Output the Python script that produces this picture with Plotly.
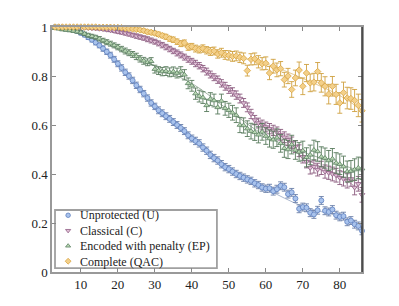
import plotly.graph_objects as go

x = list(range(3, 87))

U = [1.000, 0.999, 0.998, 0.996, 0.994, 0.990, 0.984, 0.976, 0.968, 0.958,
     0.948, 0.937, 0.925, 0.912, 0.899, 0.885, 0.868, 0.850, 0.833, 0.815,
     0.800, 0.782, 0.762, 0.745, 0.728, 0.710, 0.690, 0.676, 0.660, 0.648,
     0.636, 0.625, 0.612, 0.600, 0.588, 0.575, 0.558, 0.545, 0.535, 0.525,
     0.508, 0.495, 0.478, 0.465, 0.455, 0.440, 0.428, 0.420, 0.410, 0.400,
     0.392, 0.385, 0.378, 0.372, 0.362, 0.355, 0.345, 0.340, 0.342, 0.330,
     0.338, 0.352, 0.346, 0.318, 0.325, 0.300, 0.258, 0.265, 0.262, 0.242,
     0.235, 0.252, 0.292, 0.250, 0.245, 0.255, 0.232, 0.225, 0.228, 0.205,
     0.210, 0.195, 0.188, 0.168]
eU = [0.003, 0.003, 0.004, 0.004, 0.005, 0.006, 0.007, 0.008, 0.008, 0.009,
      0.009, 0.010, 0.010, 0.011, 0.011, 0.012, 0.012, 0.012, 0.013, 0.013,
      0.013, 0.013, 0.013, 0.013, 0.013, 0.013, 0.013, 0.013, 0.014, 0.014,
      0.014, 0.014, 0.014, 0.014, 0.014, 0.014, 0.014, 0.014, 0.015, 0.015,
      0.015, 0.015, 0.015, 0.015, 0.015, 0.015, 0.015, 0.015, 0.015, 0.015,
      0.015, 0.015, 0.015, 0.015, 0.015, 0.015, 0.015, 0.015, 0.016, 0.016,
      0.016, 0.016, 0.016, 0.016, 0.016, 0.016, 0.016, 0.016, 0.016, 0.016,
      0.016, 0.016, 0.016, 0.016, 0.016, 0.016, 0.016, 0.016, 0.016, 0.016,
      0.016, 0.016, 0.016, 0.016]

C = [1.000, 1.000, 1.000, 0.999, 0.999, 0.999, 0.998, 0.998, 0.997, 0.996,
     0.995, 0.994, 0.993, 0.991, 0.989, 0.987, 0.984, 0.981, 0.978, 0.975,
     0.971, 0.967, 0.963, 0.959, 0.955, 0.950, 0.945, 0.940, 0.933, 0.926,
     0.918, 0.910, 0.902, 0.894, 0.886, 0.877, 0.868, 0.860, 0.851, 0.842,
     0.830, 0.818, 0.806, 0.795, 0.785, 0.770, 0.758, 0.745, 0.735, 0.722,
     0.708, 0.690, 0.672, 0.645, 0.620, 0.608, 0.600, 0.592, 0.585, 0.578,
     0.570, 0.560, 0.550, 0.540, 0.528, 0.512, 0.495, 0.470, 0.450, 0.425,
     0.430, 0.418, 0.425, 0.410, 0.405, 0.400, 0.395, 0.385, 0.380, 0.372,
     0.380, 0.345, 0.360, 0.315]
eC = [0.002, 0.002, 0.002, 0.002, 0.003, 0.003, 0.003, 0.003, 0.004, 0.004,
      0.004, 0.005, 0.005, 0.005, 0.006, 0.006, 0.006, 0.007, 0.007, 0.008,
      0.008, 0.008, 0.009, 0.009, 0.009, 0.010, 0.010, 0.010, 0.010, 0.011,
      0.011, 0.011, 0.011, 0.012, 0.012, 0.012, 0.012, 0.012, 0.013, 0.013,
      0.013, 0.014, 0.014, 0.014, 0.015, 0.015, 0.016, 0.016, 0.017, 0.017,
      0.018, 0.018, 0.018, 0.019, 0.019, 0.020, 0.020, 0.020, 0.021, 0.021,
      0.022, 0.022, 0.022, 0.023, 0.023, 0.024, 0.024, 0.025, 0.025, 0.025,
      0.026, 0.026, 0.027, 0.027, 0.027, 0.028, 0.028, 0.028, 0.029, 0.029,
      0.030, 0.030, 0.030, 0.030]

E = [0.995, 0.993, 0.990, 0.988, 0.986, 0.984, 0.981, 0.978, 0.972, 0.966,
     0.962, 0.958, 0.952, 0.945, 0.938, 0.932, 0.925, 0.918, 0.910, 0.902,
     0.895, 0.888, 0.880, 0.870, 0.862, 0.856, 0.860, 0.828, 0.822, 0.818,
     0.820, 0.815, 0.818, 0.812, 0.818, 0.805, 0.770, 0.760, 0.728, 0.718,
     0.712, 0.680, 0.706, 0.700, 0.672, 0.698, 0.668, 0.660, 0.650, 0.640,
     0.600, 0.598, 0.585, 0.575, 0.570, 0.560, 0.572, 0.555, 0.545, 0.540,
     0.548, 0.525, 0.505, 0.500, 0.520, 0.498, 0.490, 0.495, 0.468, 0.478,
     0.498, 0.492, 0.470, 0.465, 0.455, 0.462, 0.445, 0.440, 0.430, 0.410,
     0.412, 0.418, 0.425, 0.422]
eE = [0.004, 0.004, 0.005, 0.005, 0.005, 0.006, 0.006, 0.007, 0.007, 0.008,
      0.008, 0.008, 0.009, 0.009, 0.010, 0.010, 0.010, 0.011, 0.011, 0.012,
      0.012, 0.012, 0.013, 0.013, 0.014, 0.014, 0.015, 0.016, 0.016, 0.017,
      0.018, 0.018, 0.019, 0.020, 0.020, 0.021, 0.022, 0.022, 0.023, 0.024,
      0.024, 0.025, 0.026, 0.026, 0.027, 0.028, 0.028, 0.029, 0.030, 0.030,
      0.031, 0.031, 0.032, 0.032, 0.033, 0.033, 0.034, 0.034, 0.035, 0.035,
      0.036, 0.036, 0.037, 0.037, 0.038, 0.038, 0.038, 0.039, 0.039, 0.040,
      0.040, 0.040, 0.041, 0.041, 0.041, 0.042, 0.042, 0.042, 0.043, 0.043,
      0.043, 0.044, 0.044, 0.044]

Q = [1.000, 1.000, 1.000, 1.000, 1.000, 1.000, 1.000, 1.000, 1.000, 1.000,
     1.000, 1.000, 0.999, 0.999, 0.999, 0.999, 0.998, 0.998, 0.997, 0.995,
     0.994, 0.992, 0.990, 0.988, 0.985, 0.980, 0.978, 0.975, 0.970, 0.965,
     0.960, 0.952, 0.948, 0.940, 0.932, 0.935, 0.918, 0.920, 0.912, 0.908,
     0.912, 0.905, 0.900, 0.902, 0.890, 0.895, 0.886, 0.884, 0.880, 0.882,
     0.876, 0.872, 0.822, 0.868, 0.870, 0.858, 0.850, 0.852, 0.812, 0.840,
     0.825, 0.830, 0.785, 0.800, 0.745, 0.792, 0.824, 0.758, 0.812, 0.772,
     0.775, 0.818, 0.772, 0.758, 0.726, 0.758, 0.725, 0.690, 0.732, 0.710,
     0.708, 0.700, 0.680, 0.658]
eQ = [0.002, 0.002, 0.002, 0.002, 0.002, 0.002, 0.002, 0.002, 0.002, 0.002,
      0.003, 0.003, 0.003, 0.003, 0.003, 0.003, 0.004, 0.004, 0.004, 0.005,
      0.005, 0.005, 0.006, 0.006, 0.007, 0.007, 0.008, 0.008, 0.009, 0.009,
      0.010, 0.010, 0.011, 0.011, 0.012, 0.012, 0.013, 0.013, 0.014, 0.014,
      0.015, 0.015, 0.016, 0.016, 0.017, 0.018, 0.018, 0.019, 0.020, 0.020,
      0.021, 0.022, 0.022, 0.023, 0.024, 0.025, 0.025, 0.026, 0.027, 0.028,
      0.028, 0.029, 0.030, 0.031, 0.032, 0.032, 0.033, 0.034, 0.035, 0.036,
      0.036, 0.037, 0.038, 0.039, 0.040, 0.040, 0.041, 0.042, 0.043, 0.044,
      0.044, 0.045, 0.046, 0.046]

fit_x = [3, 10, 20, 30, 40, 50, 60, 70, 80, 86]
fitU = [1.0, 0.976, 0.85, 0.676, 0.548, 0.42, 0.34, 0.268, 0.225, 0.18]
fitC = [1.0, 0.998, 0.981, 0.94, 0.86, 0.745, 0.59, 0.47, 0.39, 0.33]
fitE = [0.995, 0.978, 0.918, 0.84, 0.77, 0.66, 0.555, 0.49, 0.44, 0.41]
fitQ = [1.0, 1.0, 0.998, 0.975, 0.92, 0.885, 0.85, 0.79, 0.72, 0.66]

names = ["Unprotected (U)", "Classical (C)", "Encoded with penalty (EP)", "Complete (QAC)"]
xticks = [10, 20, 30, 40, 50, 60, 70, 80]
yticks = [0, 0.2, 0.4, 0.6, 0.8, 1]
ytick_text = ["0", "0.2", "0.4", "0.6", "0.8", "1"]

series = [
    (U, eU, fitU, "circle", "#a9c3ec", "#5d7fbf", "#6a7fa8"),
    (C, eC, fitC, "triangle-down", "#e0c0d6", "#8f5d84", "#8a5a7e"),
    (E, eE, fitE, "triangle-up", "#b9d8b4", "#5c8062", "#587a5c"),
    (Q, eQ, fitQ, "diamond", "#f3d08a", "#d9a443", "#cfa040"),
]

# legend layout (fractions of the plotting area)
LEG_BOX = (0.0097, 0.016, 0.532, 0.253)
LEG_SYM_X = 0.052
LEG_TXT_X = 0.085
LEG_MID_Y = 0.1375
LEG_ROWS = [0.2315, 0.169, 0.1065, 0.044]
LEG_FONT = 12

serif = "Times New Roman"
fig = go.Figure()
for (vals, errs, fit, sym, fill, edge, ecol), name in zip(series, names):
    fig.add_trace(go.Scatter(
        x=fit_x, y=fit, mode="lines", line=dict(color=ecol, width=0.8, shape="spline"),
        opacity=0.7, showlegend=False, hoverinfo="skip", cliponaxis=False))
for (vals, errs, fit, sym, fill, edge, ecol), name in zip(series, names):
    fig.add_trace(go.Scatter(
        x=x, y=vals, mode="markers", name=name, showlegend=False,
        marker=dict(symbol=sym, size=5, color=fill, line=dict(color=edge, width=0.8)),
        error_y=dict(type="data", array=errs, color=ecol, thickness=0.9, width=2.5),
        cliponaxis=False))

# legend symbols
for (vals, errs, fit, sym, fill, edge, ecol), name, ry in zip(series, names, LEG_ROWS):
    fig.add_trace(go.Scatter(
        x=[LEG_SYM_X], y=[ry], xaxis="x2", yaxis="y2", mode="markers",
        marker=dict(symbol=sym, size=4.5, color=fill, line=dict(color=edge, width=0.8)),
        showlegend=False, hoverinfo="skip", cliponaxis=False))

legend_text = dict(x=LEG_TXT_X, y=LEG_MID_Y, xref="paper", yref="paper",
                   text="<br>".join(names), align="left",
                   showarrow=False, xanchor="left", yanchor="middle",
                   font=dict(family=serif, size=LEG_FONT, color="#222"))

fig.update_layout(
    width=399, height=306,
    margin=dict(l=44, r=45, t=15, b=42),
    paper_bgcolor="white", plot_bgcolor="white",
    font=dict(family=serif, size=12, color="#222"),
    showlegend=False,
    xaxis=dict(range=[2.2, 86], tickmode="array", tickvals=xticks,
               showgrid=False, zeroline=False, ticks="inside", ticklen=4,
               tickcolor="#888", linecolor="#999", linewidth=1.5, mirror="ticks",
               tickfont=dict(family=serif, size=13, color="#222")),
    yaxis=dict(range=[0, 1], tickmode="array", tickvals=yticks, ticktext=ytick_text,
               showgrid=False, zeroline=False, ticks="inside", ticklen=4,
               tickcolor="#888", linecolor="#999", linewidth=1.5, mirror="ticks",
               tickfont=dict(family=serif, size=13, color="#222")),
    xaxis2=dict(overlaying="x", range=[0, 1], visible=False),
    yaxis2=dict(overlaying="y", range=[0, 1], visible=False),
    annotations=[legend_text],
    shapes=[
        dict(type="rect", xref="paper", yref="paper",
             x0=LEG_BOX[0], y0=LEG_BOX[1], x1=LEG_BOX[2], y1=LEG_BOX[3],
             line=dict(color="#a0a0a0", width=1.8), fillcolor="white", layer="below"),
        dict(type="line", xref="paper", yref="paper", x0=1, x1=1, y0=0, y1=1,
             line=dict(color="#333", width=1.5)),
    ],
)
fig.write_html("out.html")
